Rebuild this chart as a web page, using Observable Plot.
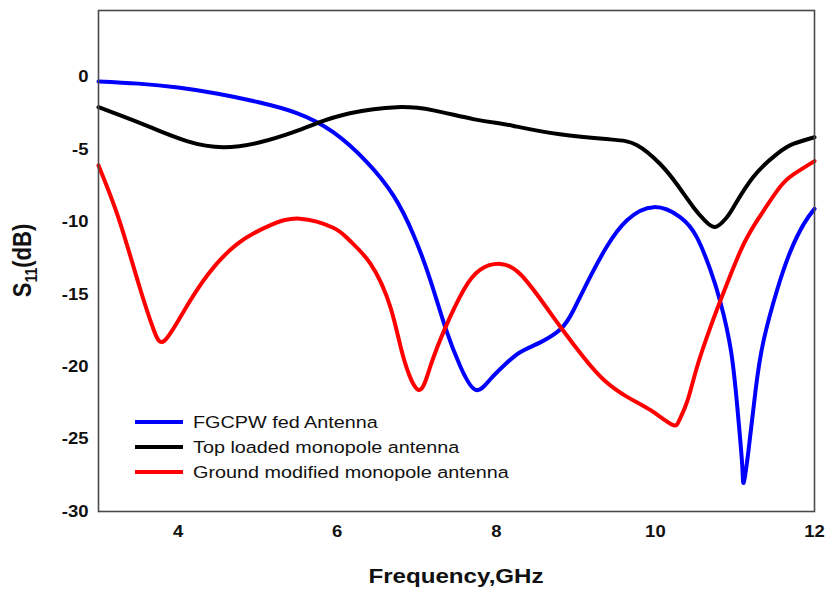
<!DOCTYPE html>
<html>
<head>
<meta charset="utf-8">
<script src="https://cdn.jsdelivr.net/npm/d3@7"></script>
<script src="https://cdn.jsdelivr.net/npm/@observablehq/plot@0.6"></script>
<style>
  html, body { margin: 0; padding: 0; background: #fff; }
  #chart { width: 827px; height: 589px; }
</style>
</head>
<body>
<div id="chart"></div>
<script>
// ---- data ----
const seriesNames = ["FGCPW fed Antenna", "Top loaded monopole antenna", "Ground modified monopole antenna"];
const seriesColors = ["#0000ff", "#000000", "#ff0000"];

const freqBlue = [3, 3.5, 4, 4.5, 5, 5.5, 5.95, 6.37, 6.71, 6.96, 7.17, 7.36, 7.55, 7.74, 7.92, 8.1, 8.3, 8.56, 8.81, 8.97, 9.18, 9.39, 9.64, 9.98, 10.31, 10.52, 10.69, 10.82, 10.95, 11.03, 11.09, 11.11, 11.17, 11.26, 11.36, 11.53, 11.7, 11.87, 12];
const s11Blue  = [-0.3, -0.45, -0.72, -1.15, -1.72, -2.5, -3.8, -5.85, -8.2, -10.9, -14.0, -17.3, -20.0, -21.6, -20.9, -19.9, -19.0, -18.3, -17.4, -16.1, -13.8, -11.7, -9.9, -8.98, -9.67, -11.05, -13.3, -15.6, -18.9, -22.8, -26.7, -28.0, -25.8, -21.6, -18.2, -14.7, -12.0, -10.1, -9.1];

const freqBlack = [3, 3.3, 3.65, 4.11, 4.57, 5.03, 5.45, 5.74, 6.16, 6.75, 7.21, 7.71, 8.05, 8.26, 8.8, 9.43, 9.77, 10.06, 10.27, 10.48, 10.62, 10.75, 10.88, 10.98, 11.23, 11.53, 11.74, 12];
const s11Black  = [-2.08, -2.7, -3.46, -4.42, -4.84, -4.5, -3.8, -3.2, -2.5, -2.08, -2.3, -2.9, -3.2, -3.42, -3.95, -4.3, -4.7, -6.0, -7.4, -9.0, -9.9, -10.35, -9.8, -9.0, -6.9, -5.3, -4.6, -4.15];

const freqRed = [3, 3.25, 3.5, 3.69, 3.83, 4.08, 4.38, 4.75, 5.17, 5.53, 5.95, 6.16, 6.42, 6.67, 6.83, 7.02, 7.17, 7.36, 7.59, 7.8, 8.05, 8.3, 8.59, 8.84, 9.09, 9.35, 9.65, 9.94, 10.21, 10.3, 10.4, 10.53, 10.69, 10.82, 11.07, 11.28, 11.55, 11.74, 12];
const s11Red  = [-6.1, -9.7, -14.2, -17.4, -18.2, -16.1, -13.6, -11.5, -10.2, -9.78, -10.4, -11.3, -12.9, -15.9, -19.3, -21.6, -20.0, -17.3, -14.7, -13.3, -12.9, -13.6, -15.6, -17.5, -19.3, -20.9, -22.1, -23.0, -24.0, -23.7, -22.4, -19.9, -17.3, -15.4, -12.0, -9.9, -7.7, -6.7, -5.8];

const xTicks = [4, 6, 8, 10, 12];
const yTicks = [0, -5, -10, -15, -20, -25, -30];
const xTitle = "Frequency,GHz";

// ---- build table ----
const rows = [];
[[freqBlue, s11Blue], [freqBlack, s11Black], [freqRed, s11Red]].forEach(([fx, fy], i) => {
  fx.forEach((f, j) => rows.push({series: seriesNames[i], f, s: fy[j]}));
});

const W = 827, H = 589;
const margin = {left: 98, right: 13, top: 10, bottom: 78};
const font = "'Liberation Sans', Arial, Helvetica, sans-serif";
const stretch = 1.15; // the reference's text is slightly wide

const plot = Plot.plot({
  width: W, height: H,
  marginLeft: margin.left, marginRight: margin.right, marginTop: margin.top, marginBottom: margin.bottom,
  style: {fontFamily: font, background: "#fff", overflow: "visible"},
  x: {domain: [3, 12]},
  y: {domain: [-30, 4.6]},
  color: {domain: seriesNames, range: seriesColors},
  marks: [
    Plot.axisX({ticks: xTicks, tickSize: 0, tickPadding: 14, label: null, fontSize: 16.5, fontWeight: "bold", fill: "#111", tickFormat: d => String(d)}),
    Plot.axisY({ticks: yTicks, tickSize: 0, tickPadding: 10, label: null, fontSize: 16.5, fontWeight: "bold", fill: "#111", tickFormat: d => String(d)}),
    Plot.line(rows, {x: "f", y: "s", z: "series", stroke: "series", strokeWidth: 4, curve: "natural"}),
    Plot.frame({stroke: "#4a4a4a", strokeWidth: 1.6})
  ]
});

document.getElementById("chart").appendChild(plot);

const svg = d3.select(plot);

// widen tick labels slightly like the reference
svg.selectAll('g[aria-label="x-axis tick label"] text, g[aria-label="y-axis tick label"] text').each(function() {
  const el = this;
  let t = el.getAttribute("transform");
  if (!t) {
    const x = +(el.getAttribute("x") || 0), y = +(el.getAttribute("y") || 0);
    el.removeAttribute("x"); el.removeAttribute("y");
    t = `translate(${x},${y})`;
  }
  el.setAttribute("transform", `${t} scale(1.12,1)`);
});

// axis titles
svg.append("text")
  .attr("transform", `translate(${(margin.left + W - margin.right) / 2},583) scale(${stretch},1)`)
  .attr("text-anchor", "middle")
  .attr("font-family", font).attr("font-size", 21).attr("font-weight", "bold").attr("fill", "#111")
  .text(xTitle);

const yl = svg.append("text")
  .attr("transform", `translate(31,${(margin.top + H - margin.bottom) / 2}) scale(${stretch},1) rotate(-90)`)
  .attr("text-anchor", "middle")
  .attr("font-family", font).attr("font-size", 22).attr("font-weight", "bold").attr("fill", "#111");
yl.append("tspan").text("S");
yl.append("tspan").attr("font-size", 14).attr("dy", 5).text("11");
yl.append("tspan").attr("dy", -5).text("(dB)");

// legend
const lg = svg.append("g").attr("font-family", font).attr("font-size", 16.5).attr("fill", "#111").attr("text-anchor", "start");
seriesNames.forEach((name, i) => {
  const y = 422 + i * 25;
  lg.append("line").attr("x1", 135).attr("x2", 183).attr("y1", y).attr("y2", y)
    .attr("stroke", seriesColors[i]).attr("stroke-width", 4);
  lg.append("text").attr("transform", `translate(193,${y}) scale(1.2,1)`).attr("dy", "0.36em").text(name);
});
</script>
</body>
</html>
